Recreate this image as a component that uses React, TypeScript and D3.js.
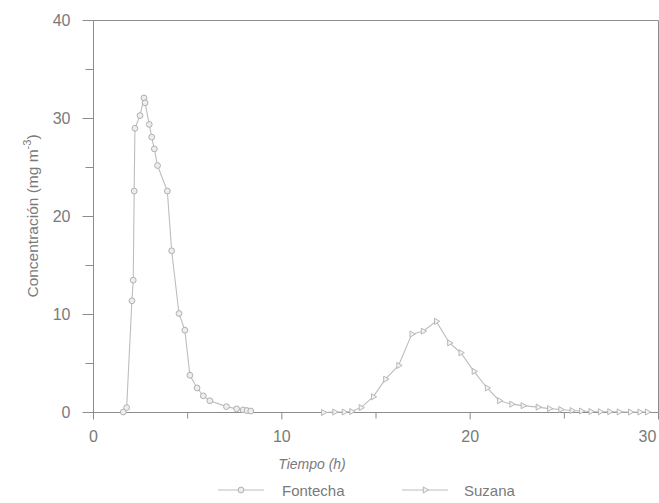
import React from "react";
import * as d3 from "d3";

// Fontecha concentration series (hours, mg m-3)
const fontechaTime = [1.58, 1.76, 2.04, 2.11, 2.16, 2.2, 2.47, 2.68, 2.74, 2.96, 3.09, 3.23, 3.4, 3.92, 4.15, 4.54, 4.85, 5.12, 5.5, 5.83, 6.18, 7.06, 7.6, 7.95, 8.15, 8.35];
const fontechaConc = [0.05, 0.5, 11.4, 13.5, 22.6, 29.0, 30.3, 32.1, 31.6, 29.4, 28.1, 26.9, 25.2, 22.6, 16.5, 10.1, 8.4, 3.8, 2.5, 1.7, 1.2, 0.6, 0.37, 0.27, 0.2, 0.15];

// Suzana concentration series (hours, mg m-3)
const suzanaTime = [12.2, 12.8, 13.3, 13.7, 14.2, 14.85, 15.5, 16.2, 16.9, 17.5, 18.2, 18.9, 19.5, 20.2, 20.9, 21.55, 22.2, 22.8, 23.6, 24.2, 24.8, 25.4, 25.9, 26.4, 26.9, 27.4, 27.9, 28.5, 29.0, 29.4];
const suzanaConc = [0.0, 0.05, 0.05, 0.1, 0.5, 1.6, 3.4, 4.8, 8.0, 8.3, 9.3, 7.1, 6.1, 4.2, 2.5, 1.2, 0.85, 0.7, 0.55, 0.4, 0.3, 0.2, 0.15, 0.1, 0.08, 0.08, 0.06, 0.05, 0.05, 0.05];

const xTicks = [0, 10, 20, 30];
const xMinorTicks = [5, 15, 25];
const yTicks = [0, 10, 20, 30, 40];
const yMinorTicks = [5, 15, 25, 35];

const W = 659;
const H = 503;
const margin = { left: 93.5, right: 658.5, top: 20.5, bottom: 412.5 };

const axisColor = "#8c8c8c";
const textColor = "#7a7a7a";
const lineColor = "#bdbdbd";
const markerStroke = "#b0b0b0";
const fontFamily = "'Liberation Sans', Arial, sans-serif";

export default function App() {
  const x = d3.scaleLinear().domain([0, 30]).range([margin.left, margin.right]);
  const y = d3.scaleLinear().domain([0, 40]).range([margin.bottom, margin.top]);

  const fontecha = fontechaTime.map((t, i) => [t, fontechaConc[i]] as [number, number]);
  const suzana = suzanaTime.map((t, i) => [t, suzanaConc[i]] as [number, number]);

  const line = d3
    .line<[number, number]>()
    .x((d) => x(d[0]))
    .y((d) => y(d[1]));

  const tri = d3.symbol().type(d3.symbolTriangle).size(16)() as string;

  const circleMarker = (cx: number, cy: number, key: React.Key) => (
    <circle key={key} cx={cx} cy={cy} r={2.9} fill="#eeeeee" stroke={markerStroke} strokeWidth={1} />
  );
  const triMarker = (cx: number, cy: number, key: React.Key) => (
    <path key={key} d={tri} transform={`translate(${cx},${cy}) rotate(90)`} fill="#f3f3f3" stroke={markerStroke} strokeWidth={0.9} />
  );

  return (
    <svg width={W} height={H} style={{ position: "absolute", left: 0, top: 0, background: "#fff" }}>
      <rect x={0} y={0} width={W} height={H} fill="#ffffff" />

      {/* frame */}
      <line x1={margin.left} x2={margin.right} y1={margin.top} y2={margin.top} stroke={axisColor} strokeWidth={1} />
      <line x1={margin.right} x2={margin.right} y1={margin.top} y2={margin.bottom} stroke={axisColor} strokeWidth={1} />
      <line x1={margin.left} x2={margin.left} y1={margin.top} y2={margin.bottom + 6} stroke={axisColor} strokeWidth={1} />
      <line x1={margin.left} x2={margin.right} y1={margin.bottom} y2={margin.bottom} stroke={axisColor} strokeWidth={1} />

      {/* y ticks */}
      {yTicks.map((v) => (
        <g key={`yt${v}`}>
          <line x1={margin.left - 11} x2={margin.left} y1={y(v)} y2={y(v)} stroke={axisColor} />
          <text x={margin.left - 23} y={y(v)} dy="0.35em" textAnchor="end" fontFamily={fontFamily} fontSize={16} fill={textColor}>
            {v}
          </text>
        </g>
      ))}
      {yMinorTicks.map((v) => (
        <line key={`ym${v}`} x1={margin.left - 8} x2={margin.left} y1={y(v)} y2={y(v)} stroke={axisColor} />
      ))}

      {/* x ticks */}
      {xTicks.map((v) => (
        <g key={`xt${v}`}>
          <line x1={x(v)} x2={x(v)} y1={margin.bottom} y2={margin.bottom + 7} stroke={axisColor} />
          <text x={x(v) - (v === 30 ? 11 : 0)} y={margin.bottom + 29} textAnchor="middle" fontFamily={fontFamily} fontSize={16} fill={textColor}>
            {v}
          </text>
        </g>
      ))}
      {xMinorTicks.map((v) => (
        <line key={`xm${v}`} x1={x(v)} x2={x(v)} y1={margin.bottom} y2={margin.bottom + 6} stroke={axisColor} />
      ))}

      {/* axis titles */}
      <text x={312} y={469} textAnchor="middle" fontFamily={fontFamily} fontStyle="italic" fontSize={14} fill={textColor}>
        Tiempo (h)
      </text>
      <text transform="translate(38,216) rotate(-90)" textAnchor="middle" fontFamily={fontFamily} fontSize={15.5} fill={textColor}>
        Concentración (mg m
        <tspan dy="-7" fontSize={11}>-3</tspan>
        <tspan dy="7">)</tspan>
      </text>

      {/* series */}
      <path d={line(fontecha) ?? ""} fill="none" stroke={lineColor} strokeWidth={1.1} />
      <path d={line(suzana) ?? ""} fill="none" stroke={lineColor} strokeWidth={1.1} />
      {fontecha.map((d, i) => circleMarker(x(d[0]), y(d[1]), `f${i}`))}
      {suzana.map((d, i) => triMarker(x(d[0]), y(d[1]), `s${i}`))}

      {/* legend */}
      <g>
        <line x1={218} x2={264} y1={490} y2={490} stroke={lineColor} strokeWidth={1} />
        {circleMarker(241, 490, "lf")}
        <text x={282} y={496} fontFamily={fontFamily} fontSize={15} fill={textColor}>Fontecha</text>
        <line x1={402} x2={448} y1={490} y2={490} stroke={lineColor} strokeWidth={1} />
        {triMarker(425, 490, "ls")}
        <text x={464} y={496} fontFamily={fontFamily} fontSize={15} fill={textColor}>Suzana</text>
      </g>
    </svg>
  );
}
